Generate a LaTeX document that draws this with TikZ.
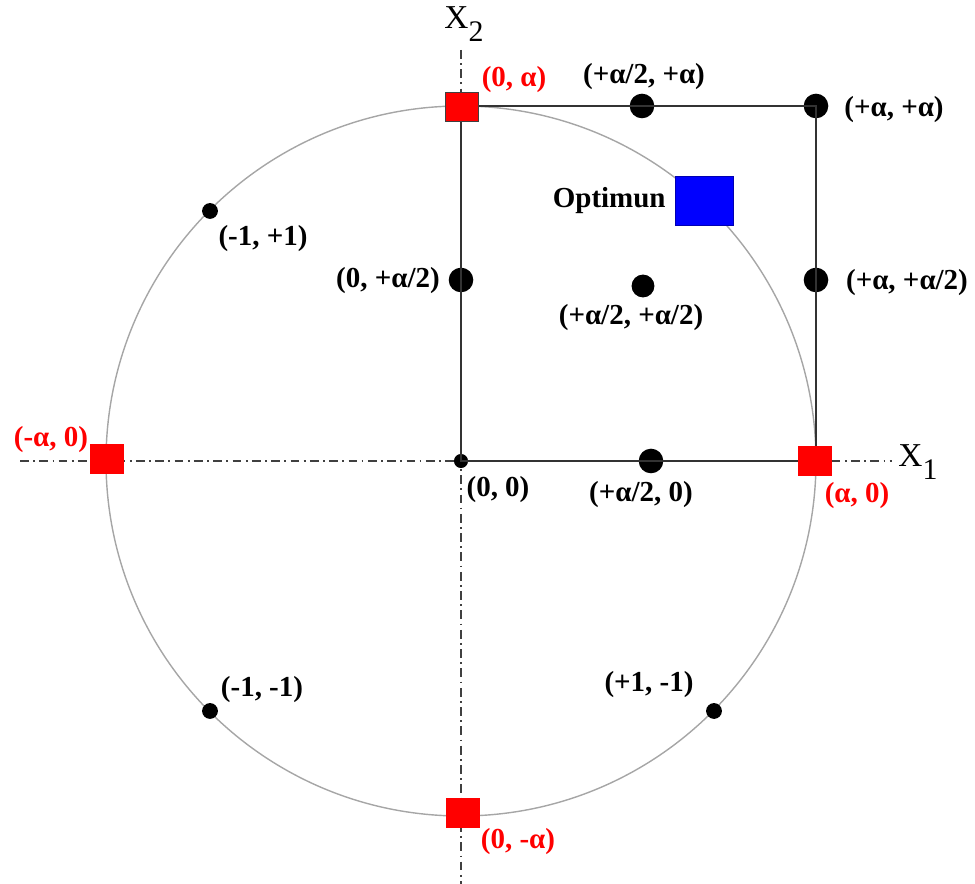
\documentclass[tikz,border=0pt]{standalone}
\usepackage{fontspec}
\setmainfont{Liberation Serif}[BoldFont={Liberation Serif Bold}]
\usetikzlibrary{positioning}

\begin{document}
\begin{tikzpicture}[
    x=0.02cm, y=-0.02cm,
    axis/.style={draw=black!75, line width=0.9pt, dash pattern=on 5pt off 2.5pt on 1pt off 2.5pt},
    frame/.style={draw=black!80, line width=1.4pt},
    bigdot/.style={circle, fill=black, inner sep=0pt, minimum size=14pt},
    smalldot/.style={circle, fill=black, inner sep=0pt, minimum size=9pt},
    starpt/.style={rectangle, fill=red, draw=red, line width=0.4pt, inner sep=0pt, minimum width=19pt, minimum height=16.5pt},
    lbl/.style={font=\fontsize{16.5}{18}\selectfont\bfseries, inner sep=0pt},
    redlbl/.style={lbl, text=red},
    axlbl/.style={font=\fontsize{19}{20}\selectfont, inner sep=0pt}
]
    \useasboundingbox (0,0) rectangle (975,884);

    % axes and circle
    \coordinate (o) at (461,461);
    \coordinate (xl) at (20,461);
    \coordinate (xr) at (892,461);
    \coordinate (yt) at (461,50);
    \coordinate (yb) at (461,884);
    \draw[axis] (xl) -- (xr);
    \draw[axis] (yt) -- (yb);
    \draw[gray!70, line width=0.8pt] (o) circle (355);
    \node[axlbl] (x1) at (918,462) {X\raisebox{-7pt}{\fontsize{17}{17}\selectfont 1}};
    \node[axlbl] (x2) at (464,24) {X\raisebox{-7pt}{\fontsize{17}{17}\selectfont 2}};

    % design points
    \node[smalldot, minimum size=8pt] (c00) at (o) {};
    \node[bigdot] (ch0) at (651,461) {};
    \node[bigdot] (c0h) at (461,280) {};
    \node[bigdot, minimum size=13pt] (chh) at (643,286) {};
    \node[bigdot] (cah) at (816,280) {};
    \node[bigdot] (cha) at (642,106) {};
    \node[bigdot] (caa) at (816,106) {};
    \node[smalldot] (mp) at (210,211) {};
    \node[smalldot] (mm) at (210,711) {};
    \node[smalldot] (pm) at (714,711) {};

    % square region
    \draw[frame] (c00.center) -- (ch0.center) -- (816,461) -- (cah.center)
        -- (caa.center) -- (cha.center) -- (461,106) -- (c0h.center) -- cycle;

    % star points
    \node[starpt, draw=black!75] (s0a) at (462,107) {};
    \node[starpt] (sa0) at (815,461) {};
    \node[starpt] (sm0) at (107,459) {};
    \node[starpt] (s0m) at (463,813) {};

    % optimum
    \node[rectangle, fill=blue, draw=blue!70!black, line width=0.3pt, inner sep=0pt,
          minimum width=33pt, minimum height=28pt] (opt) at (704,201) {};
    \node[lbl, left=5pt of opt] (optl) {Optimun};

    % labels
    \node[redlbl] (l0a) at (514,80) {(0, α)};
    \node[redlbl] (la0) at (857,496) {(α, 0)};
    \node[redlbl] (lm0) at (51,440) {(-α, 0)};
    \node[redlbl] (l0m) at (518,842) {(0, -α)};
    \node[lbl] (lha) at (644,77) {(+α/2, +α)};
    \node[lbl] (laa) at (894,110) {(+α, +α)};
    \node[lbl] (lah) at (907,283) {(+α, +α/2)};
    \node[lbl] (l0h) at (388,281) {(0, +α/2)};
    \node[lbl] (lhh) at (631,318) {(+α/2, +α/2)};
    \node[lbl] (l00) at (498,490) {(0, 0)};
    \node[lbl] (lh0) at (641,495) {(+α/2, 0)};
    \node[lbl] (lmp) at (263,239) {(-1, +1)};
    \node[lbl] (lmm) at (262,690) {(-1, -1)};
    \node[lbl] (lpm) at (649,685) {(+1, -1)};
\end{tikzpicture}
\end{document}
